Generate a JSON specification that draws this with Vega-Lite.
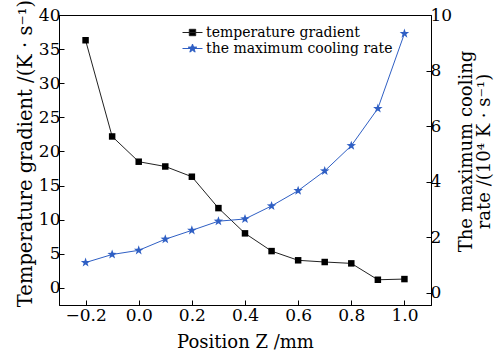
{
  "$schema": "https://vega.github.io/schema/vega-lite/v6.json",
  "width": 372,
  "height": 290,
  "autosize": {"type": "none"},
  "padding": {"left": 59, "top": 15, "right": 67, "bottom": 51},
  "config": {
    "font": "DejaVu Serif",
    "view": {"stroke": "black", "strokeWidth": 1},
    "axis": {
      "grid": false,
      "domainColor": "black",
      "domainWidth": 1,
      "tickColor": "black",
      "tickSize": -5,
      "labelColor": "black",
      "titleColor": "black",
      "labelFont": "DejaVu Serif",
      "titleFont": "DejaVu Serif",
      "labelFontSize": 17,
      "titleFontSize": 18,
      "titleFontWeight": "normal",
      "labelPadding": 4
    }
  },
  "data": {
    "values": [
      {"z": -0.2, "series": "temperature gradient", "value": 36.3},
      {"z": -0.1, "series": "temperature gradient", "value": 22.2},
      {"z": 0.0, "series": "temperature gradient", "value": 18.5},
      {"z": 0.1, "series": "temperature gradient", "value": 17.8},
      {"z": 0.2, "series": "temperature gradient", "value": 16.3},
      {"z": 0.3, "series": "temperature gradient", "value": 11.7},
      {"z": 0.4, "series": "temperature gradient", "value": 8.0},
      {"z": 0.5, "series": "temperature gradient", "value": 5.4},
      {"z": 0.6, "series": "temperature gradient", "value": 4.05},
      {"z": 0.7, "series": "temperature gradient", "value": 3.8},
      {"z": 0.8, "series": "temperature gradient", "value": 3.6},
      {"z": 0.9, "series": "temperature gradient", "value": 1.2},
      {"z": 1.0, "series": "temperature gradient", "value": 1.3},
      {"z": -0.2, "series": "the maximum cooling rate", "value": 1.08},
      {"z": -0.1, "series": "the maximum cooling rate", "value": 1.37},
      {"z": 0.0, "series": "the maximum cooling rate", "value": 1.52},
      {"z": 0.1, "series": "the maximum cooling rate", "value": 1.92},
      {"z": 0.2, "series": "the maximum cooling rate", "value": 2.24},
      {"z": 0.3, "series": "the maximum cooling rate", "value": 2.57},
      {"z": 0.4, "series": "the maximum cooling rate", "value": 2.65},
      {"z": 0.5, "series": "the maximum cooling rate", "value": 3.12},
      {"z": 0.6, "series": "the maximum cooling rate", "value": 3.67},
      {"z": 0.7, "series": "the maximum cooling rate", "value": 4.38},
      {"z": 0.8, "series": "the maximum cooling rate", "value": 5.29},
      {"z": 0.9, "series": "the maximum cooling rate", "value": 6.63},
      {"z": 1.0, "series": "the maximum cooling rate", "value": 9.33}
    ]
  },
  "encoding": {
    "x": {
      "field": "z",
      "type": "quantitative",
      "scale": {"domain": [-0.3, 1.1], "nice": false, "zero": false},
      "axis": {
        "values": [-0.2, 0, 0.2, 0.4, 0.6, 0.8, 1.0],
        "labelExpr": "datum.value == 1 ? '1.0' : datum.label",
        "title": "Position Z /mm",
        "labelPadding": 7,
        "titlePadding": 10
      }
    }
  },
  "layer": [
    {
      "transform": [{"filter": "datum.series === 'temperature gradient'"}],
      "encoding": {
        "y": {
          "field": "value",
          "type": "quantitative",
          "scale": {"domain": [-2.5, 40], "nice": false, "zero": false},
          "axis": {
            "orient": "left",
            "values": [0, 5, 10, 15, 20, 25, 30, 35, 40],
            "title": "Temperature gradient /(K · s⁻¹)",
            "titleFontSize": 19.5,
            "titleY": 138,
            "titlePadding": 3
          }
        }
      },
      "layer": [
        {
          "mark": {"type": "line", "strokeWidth": 1},
          "encoding": {
            "color": {
              "field": "series",
              "type": "nominal",
              "scale": {"domain": ["temperature gradient", "the maximum cooling rate"], "range": ["#222222", "#2f5fc4"]},
              "legend": {
                "orient": "none",
                "legendX": 125,
                "legendY": 9,
                "title": null,
                "padding": 0,
                "rowPadding": 0,
                "symbolSize": 256,
                "labelFont": "DejaVu Serif",
                "labelFontSize": 14,
                "labelColor": "black",
                "labelOffset": 5,
                "labelLimit": 0,
                "encode": {
                  "symbols": {
                    "update": {
                      "shape": {"signal": "datum.value === 'temperature gradient' ? 'M-1.25,0H1.25M-0.4,-0.4H0.4V0.4H-0.4Z' : 'M-1.25,0H1.25M0,-0.56L0.132,-0.181L0.533,-0.173L0.213,0.069L0.329,0.453L0,0.224L-0.329,0.453L-0.213,0.069L-0.533,-0.173L-0.132,-0.181Z'"},
                      "fill": {"signal": "datum.value === 'temperature gradient' ? '#000000' : '#2f5fc4'"},
                      "strokeWidth": {"value": 1},
                      "opacity": {"value": 1}
                    }
                  }
                }
              }
            }
          }
        },
        {
          "mark": {"type": "point", "shape": "square", "filled": true, "size": 42, "color": "#000000", "opacity": 1}
        }
      ]
    },
    {
      "transform": [{"filter": "datum.series === 'the maximum cooling rate'"}],
      "encoding": {
        "y": {
          "field": "value",
          "type": "quantitative",
          "scale": {"domain": [-0.45, 10], "nice": false, "zero": false},
          "axis": {
            "orient": "right",
            "values": [0, 2, 4, 6, 8, 10],
            "title": ["The maximum cooling", "rate /(10⁴ K · s⁻¹)"],
            "titleAngle": 270,
            "titleLineHeight": 18,
            "titleY": 136,
            "titlePadding": 6
          }
        }
      },
      "layer": [
        {
          "mark": {"type": "line", "strokeWidth": 1},
          "encoding": {
            "color": {
              "field": "series",
              "type": "nominal",
              "scale": {"domain": ["temperature gradient", "the maximum cooling rate"], "range": ["#222222", "#2f5fc4"]}
            }
          }
        },
        {
          "mark": {"type": "point", "shape": "M0,-1L0.235,-0.324L0.951,-0.309L0.380,0.124L0.588,0.809L0,0.4L-0.588,0.809L-0.380,0.124L-0.951,-0.309L-0.235,-0.324Z", "filled": true, "size": 100, "color": "#2f5fc4", "opacity": 1}
        }
      ]
    }
  ],
  "resolve": {"scale": {"y": "independent"}}
}
